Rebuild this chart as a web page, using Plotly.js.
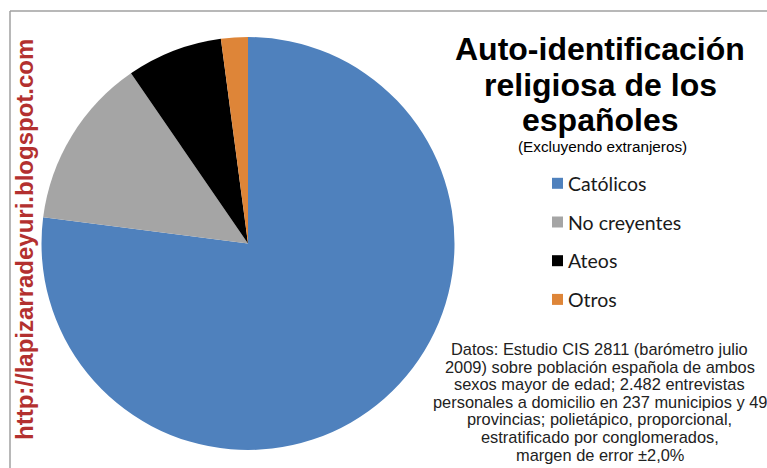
<!DOCTYPE html>
<html>
<head>
<meta charset="utf-8">
<script src="https://cdn.plot.ly/plotly-3.0.1.min.js"></script>
<style>html,body{margin:0;padding:0;background:#fff;}#chart{width:767px;height:468px;}</style>
</head>
<body>
<div id="chart"></div>
<script>
const categories = ["Católicos", "No creyentes", "Ateos", "Otros"];
const values = [77.1, 13.4, 7.5, 2.1];
const colors = ["#4f81bd", "#a5a5a5", "#000000", "#de8538"];
const titleLines = ["Auto-identificación", "religiosa de los", "españoles"];
const subtitle = "(Excluyendo extranjeros)";
const noteLines = [
  "Datos: Estudio CIS 2811 (barómetro julio",
  "2009) sobre población española de ambos",
  "sexos mayor de edad; 2.482 entrevistas",
  "personales a domicilio en 237 municipios y 49",
  "provincias; polietápico, proporcional,",
  "estratificado por conglomerados,",
  "margen de error ±2,0%"
];
const watermark = "http://lapizarradeyuri.blogspot.com";

const W = 767, H = 468;
const px = x => x / W;
const py = y => 1 - y / H;

const annotations = [];
const shapes = [];

titleLines.forEach((t, i) => {
  annotations.push({text: "<b>" + t + "</b>", xref: "paper", yref: "paper", x: px(600), y: py(49 + 35.5 * i),
    xanchor: "center", yanchor: "middle", showarrow: false,
    font: {family: "Liberation Sans, Arial, sans-serif", size: 32, color: "#000"}});
});
annotations.push({text: subtitle, xref: "paper", yref: "paper", x: px(602), y: py(146),
  xanchor: "center", yanchor: "middle", showarrow: false,
  font: {family: "Liberation Sans, Arial, sans-serif", size: 15.3, color: "#000"}});

categories.forEach((c, i) => {
  const yc = 183.3 + 38.7 * i;
  annotations.push({text: c, xref: "paper", yref: "paper", x: px(566), y: py(yc),
    xanchor: "left", yanchor: "middle", showarrow: false,
    font: {family: "Lato, sans-serif", size: 19.5, color: "#1a1a1a"}});
  shapes.push({type: "rect", xref: "paper", yref: "paper",
    x0: px(552), x1: px(563), y0: py(yc - 5.5), y1: py(yc + 5.5),
    fillcolor: colors[i], line: {width: 0}});
});

noteLines.forEach((t, i) => {
  annotations.push({text: t, xref: "paper", yref: "paper", x: px(599.5), y: py(349 + 17.6 * i),
    xanchor: "center", yanchor: "middle", showarrow: false,
    font: {family: "Liberation Sans, Arial, sans-serif", size: 16.4, color: "#222"}});
});

annotations.push({text: "<b>" + watermark + "</b>", xref: "paper", yref: "paper", x: px(25), y: py(240),
  xanchor: "center", yanchor: "middle", showarrow: false, textangle: -90,
  font: {family: "Liberation Sans, Arial, sans-serif", size: 24, color: "#b3302f"}});

// frame
shapes.push({type: "line", xref: "paper", yref: "paper", x0: px(10), x1: px(10), y0: 0, y1: py(11), line: {color: "#a0a0a0", width: 1.5}});
shapes.push({type: "line", xref: "paper", yref: "paper", x0: px(10), x1: 1, y0: py(11), y1: py(11), line: {color: "#a0a0a0", width: 1.5}});

const cx = 248, cy = 243.5, r = 206.5;
const data = [{
  type: "pie",
  labels: categories,
  values: values,
  marker: {colors: colors, line: {width: 0}},
  sort: false,
  direction: "clockwise",
  rotation: 0,
  textinfo: "none",
  hoverinfo: "label+percent",
  showlegend: false,
  domain: {x: [px(cx - r), px(cx + r)], y: [py(cy + r), py(cy - r)]}
}];

const layout = {
  width: W, height: H,
  margin: {l: 0, r: 0, t: 0, b: 0},
  paper_bgcolor: "#fff",
  showlegend: false,
  annotations: annotations,
  shapes: shapes
};

Plotly.newPlot("chart", data, layout, {staticPlot: true, displayModeBar: false});
</script>
</body>
</html>
